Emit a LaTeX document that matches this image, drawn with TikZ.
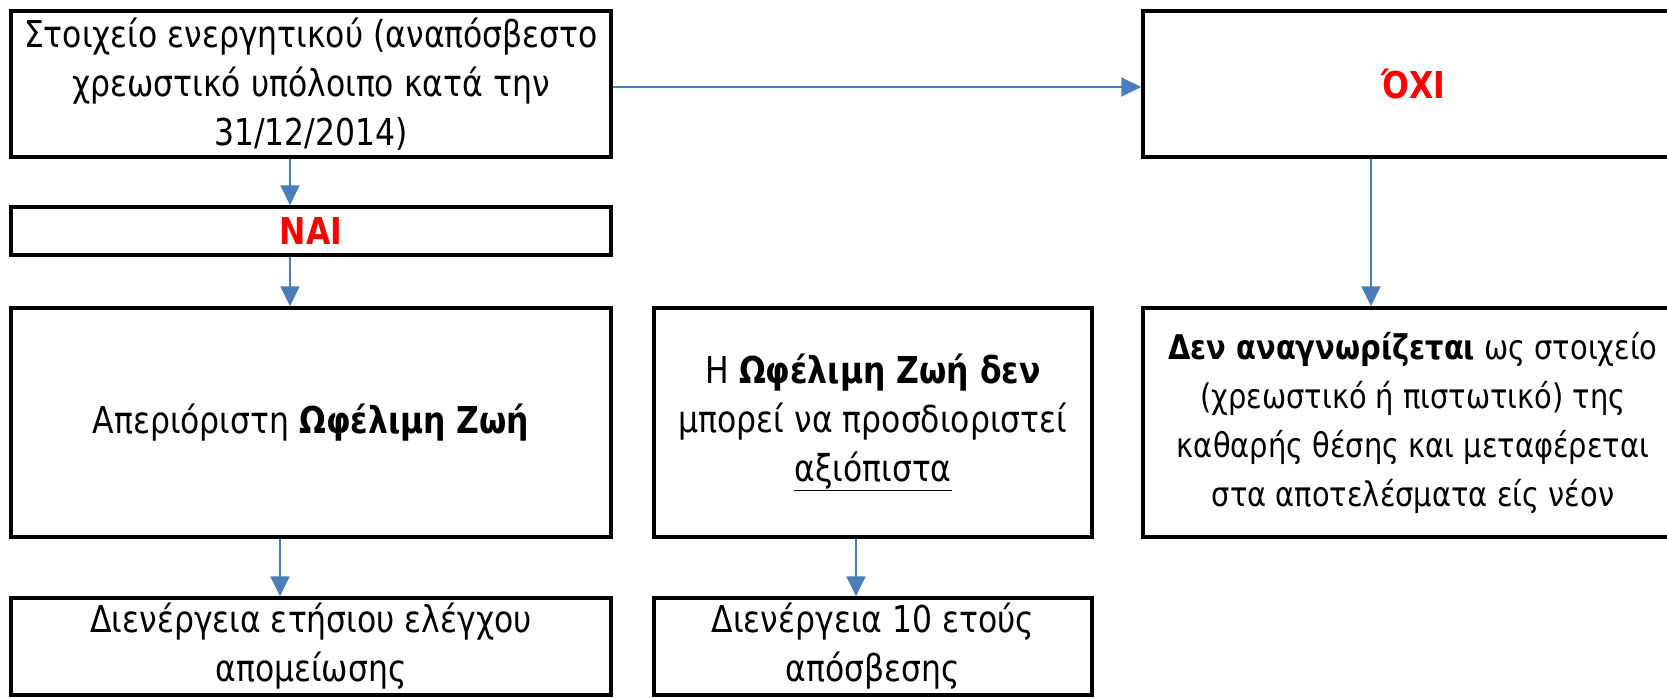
\documentclass[tikz,border=0pt]{standalone}
\usepackage{fontspec}
\setmainfont[FakeStretch=0.85]{DejaVu Sans}
\usepackage{xcolor}
\usepackage{tikz}
\usetikzlibrary{arrows.meta}
\definecolor{ink}{HTML}{000000}
\definecolor{flow}{HTML}{4A7EBB}
\definecolor{warn}{HTML}{FF0000}
\tikzset{
  box/.style={draw=ink, line width=3.5pt, align=center, inner sep=0pt,
    font=\fontsize{37}{49}\selectfont},
  arr/.style={draw=flow, line width=2pt, -{Triangle[length=20pt,width=19pt]}},
  ans/.style={text=warn, font=\bfseries}
}

\begin{document}
\begin{tikzpicture}[x=1pt,y=-1pt]
  \useasboundingbox (0,0) rectangle (1667,697);
  \clip (0,0) rectangle (1667,697);
  % left column
  \node[box,minimum width=600pt,minimum height=146pt] (stock) at (311,84)
    {Στοιχείο ενεργητικού (αναπόσβεστο\\χρεωστικό υπόλοιπο κατά την\\31/12/2014)};
  \node[box,minimum width=600pt,minimum height=48pt] (nai) at (311,231)
    {\textcolor{warn}{\bfseries ΝΑΙ}};
  \node[box,minimum width=600pt,minimum height=229pt] (apeir) at (311,422.5)
    {Απεριόριστη \textbf{Ωφέλιμη Ζωή}};
  \node[box,minimum width=600pt,minimum height=97pt] (test) at (311,646.5)
    {Διενέργεια ετήσιου ελέγχου\\απομείωσης};
  % middle column
  \node[box,minimum width=438pt,minimum height=229pt] (ofel) at (873,422.5)
    {Η \textbf{Ωφέλιμη Ζωή δεν}\\μπορεί να προσδιοριστεί\\\underline{αξιόπιστα}};
  \node[box,minimum width=438pt,minimum height=97pt] (apos) at (873,646.5)
    {Διενέργεια 10 ετούς\\απόσβεσης};
  % right column (cut by the page edge)
  \node[box,minimum width=540pt,minimum height=146pt] (oxi) at (1413,84)
    {\textcolor{warn}{\bfseries ΌΧΙ}};
  \node[box,minimum width=540pt,minimum height=229pt,font=\fontsize{34}{49}\selectfont] (den) at (1413,422.5)
    {\textbf{Δεν αναγνωρίζεται} ως στοιχείο\\(χρεωστικό ή πιστωτικό) της\\καθαρής θέσης και μεταφέρεται\\στα αποτελέσματα είς νέον};
  % arrows
  \draw[arr] ([xshift=-21pt]stock.south) -- ([xshift=-21pt]nai.north);
  \draw[arr] ([xshift=-21pt]nai.south) -- ([xshift=-21pt]apeir.north);
  \draw[arr] ([xshift=-31pt]apeir.south) -- ([xshift=-31pt]test.north);
  \draw[arr] ([xshift=-17pt]ofel.south) -- ([xshift=-17pt]apos.north);
  \draw[arr] ([yshift=-3pt]stock.east) -- ([yshift=-3pt]oxi.west);
  \draw[arr] ([xshift=-42pt]oxi.south) -- ([xshift=-42pt]den.north);
\end{tikzpicture}
\end{document}
